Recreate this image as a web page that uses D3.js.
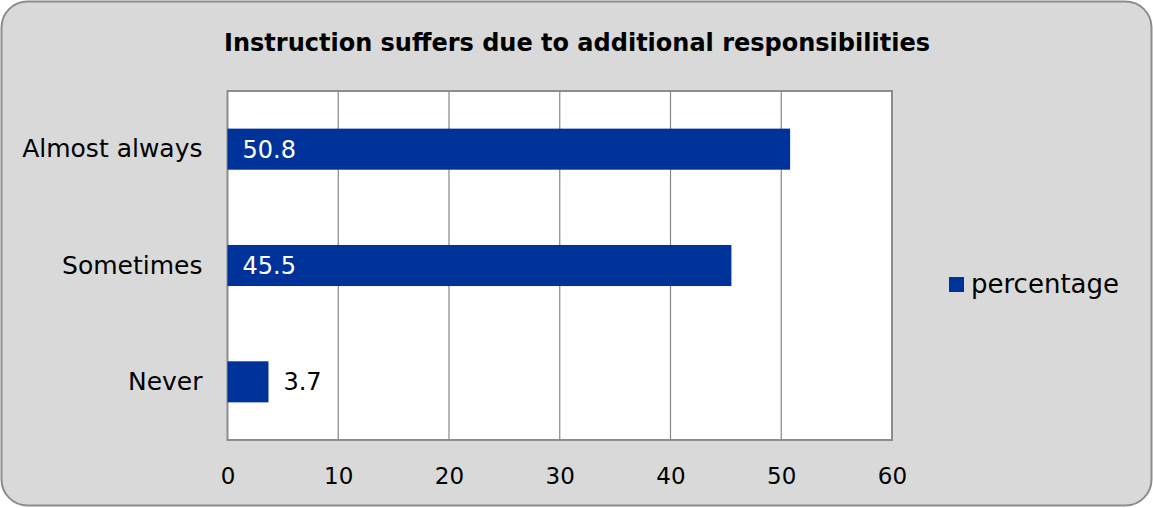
<!DOCTYPE html>
<html>
<head>
<meta charset="utf-8">
<script src="https://cdn.jsdelivr.net/npm/d3@7"></script>
<style>
  html, body { margin: 0; padding: 0; background: #ffffff; }
  svg { display: block; }
  text { font-family: "DejaVu Sans", sans-serif; fill: #000; }
</style>
</head>
<body>
<svg id="chart" width="1153" height="508"></svg>
<script>
// Survey responses: how often instruction suffers from extra duties
const categories = ["Almost always", "Sometimes", "Never"];
const percentages = [50.8, 45.5, 3.7];
const tickValues = [0, 10, 20, 30, 40, 50, 60];
const seriesName = "percentage";
const chartTitle = "Instruction suffers due to additional responsibilities";

const W = 1153, H = 508;
const plot = { left: 227.5, top: 91, right: 892, bottom: 440 };
const barColor = "#003399";
const fontFamily = "'DejaVu Sans', sans-serif";

const svg = d3.select("#chart");

// Chart area background with rounded frame
svg.append("rect")
  .attr("x", 1.5).attr("y", 1.5)
  .attr("width", W - 3).attr("height", H - 4)
  .attr("rx", 26).attr("ry", 26)
  .attr("fill", "#d9d9d9")
  .attr("stroke", "#8c8c8c")
  .attr("stroke-width", 2);

// Plot area
svg.append("rect")
  .attr("x", plot.left).attr("y", plot.top)
  .attr("width", plot.right - plot.left).attr("height", plot.bottom - plot.top)
  .attr("fill", "#ffffff")
  .attr("stroke", "#8c8c8c")
  .attr("stroke-width", 2);

const x = d3.scaleLinear().domain([0, 60]).range([plot.left, plot.right]);
const y = d3.scaleBand().domain(categories)
  .range([plot.top, plot.bottom])
  .paddingInner(0.647).paddingOuter(0.3235);

// Vertical gridlines
svg.append("g")
  .selectAll("line")
  .data(tickValues.slice(1, -1))
  .join("line")
  .attr("x1", d => x(d)).attr("x2", d => x(d))
  .attr("y1", plot.top).attr("y2", plot.bottom)
  .attr("stroke", "#868686")
  .attr("stroke-width", 1.2);

// X axis tick labels
const xAxis = d3.axisBottom(x).tickValues(tickValues).tickSize(0).tickPadding(0);
const gx = svg.append("g")
  .attr("transform", `translate(0, ${plot.bottom + 36})`)
  .call(xAxis);
gx.select(".domain").remove();
gx.selectAll("text")
  .attr("dy", "0.36em")
  .attr("y", 0)
  .style("font-size", "23px")
  .style("font-family", fontFamily)
  .attr("fill", "#000");

// Category labels
const yAxis = d3.axisLeft(y).tickSize(0).tickPadding(0);
const gy = svg.append("g")
  .attr("transform", `translate(${plot.left - 25}, 0)`)
  .call(yAxis);
gy.select(".domain").remove();
gy.selectAll("text")
  .attr("dy", "0.33em")
  .style("font-size", "25px")
  .style("font-family", fontFamily)
  .attr("fill", "#000");

// Bars
const rows = categories.map((c, i) => ({ cat: c, value: percentages[i] }));
svg.append("g")
  .selectAll("rect")
  .data(rows)
  .join("rect")
  .attr("x", x(0))
  .attr("y", d => y(d.cat))
  .attr("width", d => x(d.value) - x(0))
  .attr("height", y.bandwidth())
  .attr("fill", barColor);

// Value labels: inside the bar base when there is room, otherwise past the end
svg.append("g")
  .selectAll("text")
  .data(rows)
  .join("text")
  .attr("x", d => d.value > 10 ? x(0) + 15 : x(d.value) + 15)
  .attr("y", d => y(d.cat) + y.bandwidth() / 2)
  .attr("dy", "0.36em")
  .style("font-size", "24px")
  .style("fill", d => d.value > 10 ? "#ffffff" : "#000000")
  .text(d => d.value.toFixed(1));

// Title
svg.append("text")
  .attr("x", 577)
  .attr("y", 42)
  .attr("text-anchor", "middle")
  .attr("dy", "0.36em")
  .style("font-size", "24px")
  .style("font-weight", "bold")
  .text(chartTitle);

// Legend
const legend = svg.append("g").attr("transform", "translate(949, 277)");
legend.append("rect")
  .attr("width", 15).attr("height", 15)
  .attr("fill", barColor);
legend.append("text")
  .attr("x", 22).attr("y", 7.5)
  .attr("dy", "0.33em")
  .style("font-size", "26px")
  .text(seriesName);
</script>
</body>
</html>
